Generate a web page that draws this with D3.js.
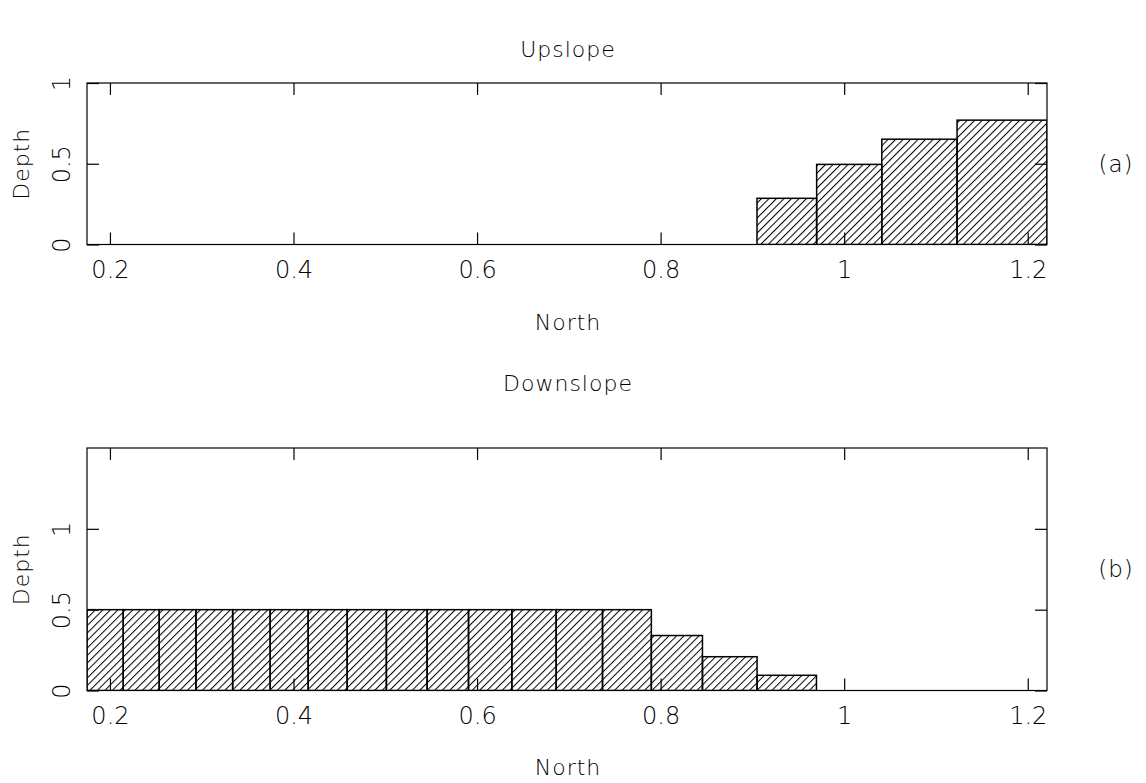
<!DOCTYPE html>
<html>
<head>
<meta charset="utf-8">
<script src="https://cdn.jsdelivr.net/npm/d3@7"></script>
<style>
  html, body { margin: 0; padding: 0; background: #fff; }
  svg { display: block; }
  text { font-family: "DejaVu Sans", "Liberation Sans", sans-serif; fill: #000; }
</style>
</head>
<body>
<svg id="chart" width="1146" height="783"></svg>
<script>
// Bin edges (North) and depths for each profile
const xTickValues = [0.2, 0.4, 0.6, 0.8, 1.0, 1.2];
const xTickLabels = ["0.2", "0.4", "0.6", "0.8", "1", "1.2"];

const upEdges = [0.905, 0.970, 1.041, 1.123, 1.221];
const upDepth = [0.286, 0.496, 0.652, 0.770];
const upYTicks = [0, 0.5, 1];
const upYLabels = ["0", "0.5", "1"];

const downEdges = [0.175, 0.2145, 0.2537, 0.2937, 0.3337, 0.3746, 0.4160, 0.4585, 0.5012,
                   0.5456, 0.5907, 0.6379, 0.6862, 0.7367, 0.7899, 0.8456, 0.9051, 0.9698];
const downDepth = [0.5, 0.5, 0.5, 0.5, 0.5, 0.5, 0.5, 0.5, 0.5, 0.5, 0.5, 0.5, 0.5, 0.5,
                   0.340, 0.209, 0.094];
const downYTicks = [0, 0.5, 1];
const downYLabels = ["0", "0.5", "1"];

const svg = d3.select("#chart");

// diagonal hatch fill
const defs = svg.append("defs");
const pat = defs.append("pattern")
  .attr("id", "hatch")
  .attr("patternUnits", "userSpaceOnUse")
  .attr("width", 5.3).attr("height", 10)
  .attr("patternTransform", "rotate(45)");
pat.append("line")
  .attr("x1", 0.5).attr("y1", 0).attr("x2", 0.5).attr("y2", 10)
  .attr("stroke", "#000").attr("stroke-width", 1);

const x = d3.scaleLinear().domain([0.175, 1.221]).range([87, 1047]);

function panel(opts) {
  const y = d3.scaleLinear().domain([0, opts.yMax]).range([opts.yBottom, opts.yTop]);
  const g = svg.append("g");
  const clipId = "clip-" + opts.id;
  defs.append("clipPath").attr("id", clipId)
    .append("rect")
    .attr("x", x.range()[0]).attr("y", opts.yTop)
    .attr("width", x.range()[1] - x.range()[0])
    .attr("height", opts.yBottom - opts.yTop);

  const bins = opts.depth.map((d, i) => ({ x0: opts.edges[i], x1: opts.edges[i + 1], d }));
  g.append("g").attr("clip-path", `url(#${clipId})`)
    .selectAll("rect").data(bins).join("rect")
    .attr("x", b => x(b.x0))
    .attr("width", b => x(b.x1) - x(b.x0))
    .attr("y", b => y(b.d))
    .attr("height", b => y(0) - y(b.d))
    .attr("fill", "url(#hatch)")
    .attr("stroke", "#000")
    .attr("stroke-width", 1.5);

  // inward ticks on all four sides
  const bottom = g.append("g").attr("transform", `translate(0,${opts.yBottom})`)
    .call(d3.axisBottom(x).tickValues(xTickValues).tickSizeInner(-12).tickSizeOuter(0)
      .tickFormat((d, i) => xTickLabels[i]));
  bottom.selectAll("text")
    .attr("y", opts.xLabelBaseline - opts.yBottom).attr("dy", null)
    .style("font-size", "24px").style("font-weight", "200");

  g.append("g").attr("transform", `translate(0,${opts.yTop})`)
    .call(d3.axisTop(x).tickValues(xTickValues).tickSizeInner(-12).tickSizeOuter(0).tickFormat(""));

  const left = g.append("g").attr("transform", `translate(${x.range()[0]},0)`)
    .call(d3.axisLeft(y).tickValues(opts.yTicks).tickSizeInner(-12).tickSizeOuter(0)
      .tickFormat((d, i) => opts.yLabels[i]));
  left.selectAll("text")
    .attr("transform", "rotate(-90)")
    .attr("x", 0).attr("y", -17).attr("dy", null)
    .attr("text-anchor", "middle")
    .style("font-size", "24px").style("font-weight", "200");

  g.append("g").attr("transform", `translate(${x.range()[1]},0)`)
    .call(d3.axisRight(y).tickValues(opts.yTicks).tickSizeInner(-12).tickSizeOuter(0).tickFormat(""));

  g.selectAll(".domain").remove();
  g.selectAll(".tick line").attr("stroke", "#000").attr("stroke-width", 1.2);

  // frame
  g.append("rect")
    .attr("x", x.range()[0]).attr("y", opts.yTop)
    .attr("width", x.range()[1] - x.range()[0])
    .attr("height", opts.yBottom - opts.yTop)
    .attr("fill", "none").attr("stroke", "#000").attr("stroke-width", 1.2);

  const midX = (x.range()[0] + x.range()[1]) / 2;
  const label = (sel, size, ls) => sel.attr("text-anchor", "middle")
    .style("font-size", size).style("letter-spacing", ls).style("font-weight", "200");
  g.append("text").attr("x", midX + 1).attr("y", opts.titleBaseline)
    .call(label, "22px", "1px").text(opts.title);
  g.append("text").attr("x", midX + 1).attr("y", opts.xTitleBaseline)
    .call(label, "22px", "1px").text("North");
  const midY = (opts.yTop + opts.yBottom) / 2;
  g.append("text").attr("transform", `translate(29,${midY}) rotate(-90)`)
    .call(label, "22px", "1px").text("Depth");
  g.append("text").attr("x", 1116).attr("y", midY + 8)
    .call(label, "23px", "1px").text(opts.tag);
}

panel({
  id: "up", title: "Upslope", tag: "(a)",
  edges: upEdges, depth: upDepth, yMax: 1,
  yTicks: upYTicks, yLabels: upYLabels,
  yTop: 83, yBottom: 244.5,
  titleBaseline: 57, xLabelBaseline: 278, xTitleBaseline: 330
});

panel({
  id: "down", title: "Downslope", tag: "(b)",
  edges: downEdges, depth: downDepth, yMax: 1.5,
  yTicks: downYTicks, yLabels: downYLabels,
  yTop: 448, yBottom: 690.5,
  titleBaseline: 391, xLabelBaseline: 724, xTitleBaseline: 775
});
</script>
</body>
</html>
